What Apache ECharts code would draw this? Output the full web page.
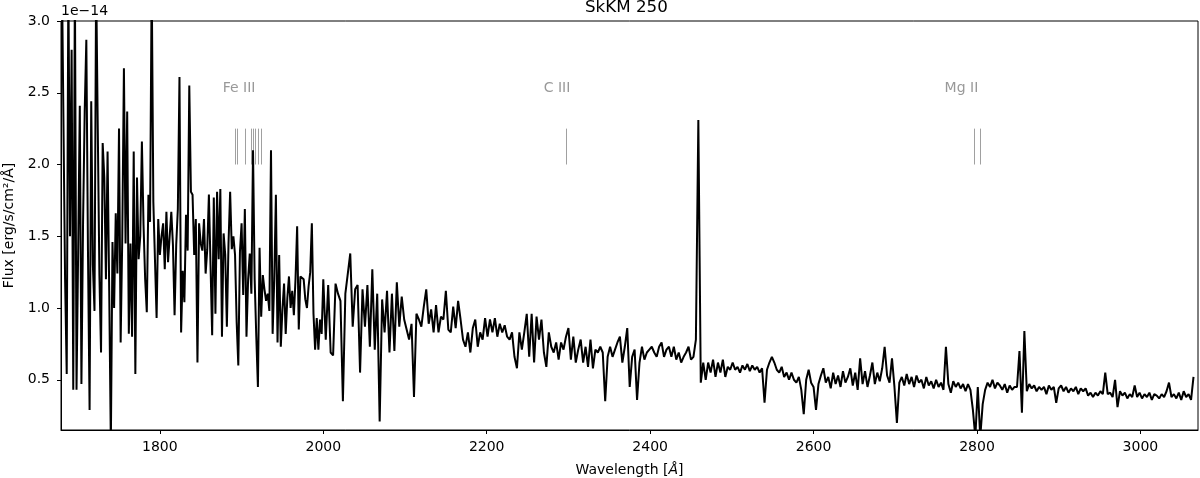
<!DOCTYPE html>
<html>
<head>
<meta charset="utf-8">
<title>SkKM 250</title>
<script src="https://cdn.jsdelivr.net/npm/echarts@6/dist/echarts.min.js"></script>
<style>
  html, body { margin: 0; padding: 0; background: #fff; }
  #chart { width: 1200px; height: 478px; }
</style>
</head>
<body>
<div id="chart"></div>
<script>
// flux in units of 1e-14 erg/s/cm2/A
// blue end: 1680..1998 A, every 2 A
const farStart = 1680;
const farStep = 2;
const farFlux = [
  3.4, 3.4, 1.2, 0.54, 3.3, 1.5, 2.8, 0.43, 3.3, 0.43,
  1.4, 2.41, 0.47, 1.6, 2.37, 2.87, 1.4, 0.29, 2.44, 1.3,
  0.98, 3.3, 2.25, 1.23, 0.69, 2.15, 1.91, 1.2, 2.09, 1.12,
  0.05, 1.46, 1.0, 1.66, 1.24, 2.25, 0.76, 1.5, 2.67, 1.45,
  2.37, 0.82, 1.45, 0.8, 2.09, 0.54, 1.91, 1.34, 1.5, 2.16,
  1.58, 1.2, 0.97, 1.79, 1.6, 3.3, 1.74, 1.75, 0.93, 1.62,
  1.37, 1.5, 1.59, 1.27, 1.67, 1.32, 1.5, 1.67, 1.44, 0.95,
  1.44, 1.69, 2.61, 0.83, 1.26, 1.04, 1.65, 1.4, 2.55, 1.81,
  1.79, 1.37, 1.62, 0.62, 1.59, 1.45, 1.4, 1.62, 1.24, 1.41,
  1.79, 1.3, 0.81, 1.77, 0.96, 1.81, 1.34, 1.83, 0.8, 1.52,
  1.37, 0.87, 1.45, 1.81, 1.41, 1.5, 1.37, 0.9, 0.6, 1.39,
  1.59, 1.09, 1.69, 0.8, 1.2, 1.38, 1.1, 2.1, 1.2, 0.8,
  0.45, 1.42, 0.94, 1.23, 1.13, 1.05, 1.1, 0.98, 2.1, 0.82,
  1.2, 1.79, 0.76, 1.37, 0.73, 0.99, 1.17, 0.82, 1.07, 1.22,
  1.0, 1.12, 0.95, 1.2, 1.57, 0.85, 1.22, 1.23, 1.2, 1.06,
  1.0, 1.15, 1.25, 1.59, 0.96, 0.71, 0.93, 0.71, 0.92, 0.82
];

// red part: 2000..3065 A, every 3 A
const nearStart = 2000;
const nearStep = 3;
const nearFlux = [
  1.20, 0.78, 1.16, 0.69, 0.67, 1.17, 1.10, 1.05, 0.35, 1.10,
  1.24, 1.38, 0.87, 1.13, 1.16, 0.55, 1.13, 0.87, 1.16, 0.73,
  1.27, 0.71, 1.10, 0.21, 1.06, 0.83, 1.12, 0.69, 1.10, 0.70,
  1.18, 0.87, 1.08, 0.92, 0.85, 0.78, 0.89, 0.38, 0.96, 0.92,
  0.87, 1.01, 1.13, 0.89, 0.99, 0.83, 1.02, 0.83, 0.94, 0.92,
  1.12, 0.85, 0.83, 1.01, 0.86, 1.05, 0.92, 0.78, 0.73, 0.83,
  0.69, 0.86, 0.92, 0.73, 0.83, 0.78, 0.93, 0.80, 0.92, 0.83,
  0.93, 0.80, 0.89, 0.83, 0.88, 0.80, 0.78, 0.83, 0.66, 0.58,
  0.83, 0.71, 0.83, 0.96, 0.66, 0.96, 0.62, 0.94, 0.78, 0.92,
  0.69, 0.59, 0.83, 0.73, 0.69, 0.76, 0.64, 0.76, 0.71, 0.80,
  0.86, 0.64, 0.80, 0.62, 0.71, 0.78, 0.62, 0.73, 0.59, 0.78,
  0.58, 0.71, 0.69, 0.73, 0.69, 0.35, 0.66, 0.73, 0.66, 0.71,
  0.76, 0.80, 0.62, 0.73, 0.86, 0.45, 0.66, 0.71, 0.36, 0.62,
  0.73, 0.64, 0.69, 0.71, 0.73, 0.69, 0.66, 0.73, 0.76, 0.66,
  0.71, 0.73, 0.66, 0.73, 0.64, 0.69, 0.62, 0.66, 0.69, 0.73,
  0.64, 0.66, 0.78, 2.31, 0.48, 0.62, 0.50, 0.62, 0.55, 0.64,
  0.52, 0.62, 0.55, 0.64, 0.52, 0.59, 0.57, 0.62, 0.57, 0.59,
  0.55, 0.60, 0.57, 0.61, 0.56, 0.60, 0.57, 0.59, 0.55, 0.58,
  0.34, 0.57, 0.62, 0.66, 0.62, 0.57, 0.55, 0.59, 0.52, 0.55,
  0.50, 0.55, 0.50, 0.48, 0.52, 0.43, 0.26, 0.50, 0.57, 0.48,
  0.45, 0.29, 0.47, 0.53, 0.58, 0.48, 0.52, 0.44, 0.55, 0.47,
  0.53, 0.45, 0.56, 0.48, 0.52, 0.58, 0.46, 0.55, 0.43, 0.65,
  0.47, 0.56, 0.45, 0.53, 0.62, 0.47, 0.55, 0.49, 0.58, 0.73,
  0.53, 0.48, 0.65, 0.45, 0.20, 0.48, 0.52, 0.46, 0.54, 0.47,
  0.52, 0.45, 0.53, 0.48, 0.50, 0.44, 0.52, 0.46, 0.49, 0.44,
  0.50, 0.45, 0.48, 0.43, 0.73, 0.47, 0.41, 0.49, 0.45, 0.48,
  0.44, 0.47, 0.42, 0.47, 0.43, 0.29, 0.10, 0.45, 0.10, 0.33,
  0.43, 0.48, 0.45, 0.50, 0.44, 0.48, 0.46, 0.43, 0.47, 0.41,
  0.46, 0.43, 0.45, 0.45, 0.70, 0.27, 0.84, 0.42, 0.47, 0.44,
  0.46, 0.42, 0.45, 0.43, 0.45, 0.40, 0.46, 0.43, 0.45, 0.34,
  0.44, 0.46, 0.42, 0.45, 0.41, 0.44, 0.42, 0.45, 0.40, 0.44,
  0.42, 0.44, 0.39, 0.41, 0.38, 0.41, 0.39, 0.42, 0.40, 0.55,
  0.40, 0.41, 0.38, 0.50, 0.31, 0.42, 0.39, 0.41, 0.37, 0.40,
  0.38, 0.46, 0.38, 0.41, 0.37, 0.40, 0.38, 0.41, 0.36, 0.40,
  0.39, 0.37, 0.40, 0.38, 0.42, 0.48, 0.38, 0.40, 0.37, 0.41,
  0.36, 0.42, 0.38, 0.40, 0.36, 0.52
];

// axes
const xTicks = [1800, 2000, 2200, 2400, 2600, 2800, 3000];
const yTicks = [0.5, 1.0, 1.5, 2.0, 2.5, 3.0];

// line identifications
const ionNames = ['Fe III', 'C III', 'Mg II'];
const ionLabelWave = [1897, 2286, 2781];
const ionLabelFlux = 2.53;
const feLines = [1891.8, 1894.7, 1904.9, 1911.8, 1914.2, 1916.7, 1920.3, 1924.5];
const cLines = [2297];
const mgLines = [2796.4, 2803.5];
const tickBottom = 2.0;
const tickTop = 2.25;

const FONT = 'DejaVu Sans';

const spectrum = [];
farFlux.forEach((f, i) => spectrum.push([farStart + i * farStep, f]));
nearFlux.forEach((f, i) => spectrum.push([nearStart + i * nearStep, f]));

const markerSegs = feLines.concat(cLines, mgLines).map(w => ({
    coords: [[w, tickBottom], [w, tickTop]]
}));

const ionLabels = ionNames.map((n, i) => ({ name: n, value: [ionLabelWave[i], ionLabelFlux] }));

const chart = echarts.init(document.getElementById('chart'), null, { renderer: 'canvas' });

chart.setOption({
    animation: false,
    backgroundColor: '#fff',
    textStyle: { fontFamily: FONT },
    grid: {
        left: 61, right: 2, top: 21, bottom: 48,
        outerBoundsMode: 'none',
        containLabel: false,
        show: true, borderColor: '#000', borderWidth: 1
    },
    xAxis: {
        type: 'value',
        min: 1679,
        max: 3070.5,
        name: 'Wavelength [{i|Å}]',
        nameLocation: 'middle',
        nameGap: 33,
        nameTextStyle: {
            color: '#000', fontSize: 14, fontFamily: FONT,
            rich: { i: { fontStyle: 'italic', fontSize: 14, fontFamily: FONT, color: '#000' } }
        },
        axisLine: { show: true, onZero: false, lineStyle: { color: '#000', width: 1 } },
        axisTick: { show: true, length: 4, customValues: xTicks, lineStyle: { color: '#000' } },
        axisLabel: {
            customValues: xTicks, color: '#000', fontSize: 14, fontFamily: FONT, margin: 10,
            formatter: v => String(v)
        },
        splitLine: { show: false }
    },
    yAxis: {
        type: 'value',
        min: 0.15,
        max: 3.0,
        name: 'Flux [erg/s/cm²/Å]',
        nameLocation: 'middle',
        nameGap: 43,
        nameTextStyle: { color: '#000', fontSize: 14, fontFamily: FONT },
        axisLine: { show: true, onZero: false, lineStyle: { color: '#000', width: 1 } },
        axisTick: { show: true, length: 4, customValues: yTicks, lineStyle: { color: '#000' } },
        axisLabel: {
            customValues: yTicks, color: '#000', fontSize: 14, fontFamily: FONT, margin: 11,
            formatter: v => v.toFixed(1)
        },
        splitLine: { show: false }
    },
    graphic: [
        {
            type: 'text', left: 585, top: -1,
            style: { text: 'SkKM 250', font: '16.7px "DejaVu Sans"', fill: '#000' }
        },
        {
            type: 'text', left: 61, top: 4,
            style: { text: '1e\u221214', font: '14px "DejaVu Sans"', fill: '#000' }
        }
    ],
    series: [
        {
            type: 'lines',
            coordinateSystem: 'cartesian2d',
            silent: true,
            z: 1,
            lineStyle: { color: '#a0a0a0', width: 1, opacity: 1 },
            data: markerSegs
        },
        {
            type: 'scatter',
            silent: true,
            z: 1,
            symbolSize: 1,
            itemStyle: { color: 'rgba(0,0,0,0)' },
            label: {
                show: true, position: 'inside', formatter: '{b}',
                color: '#808080', fontSize: 14, fontFamily: FONT
            },
            data: ionLabels
        },
        {
            type: 'line',
            z: 3,
            showSymbol: false,
            clip: true,
            lineStyle: { color: '#000', width: 2 },
            data: spectrum
        }
    ]
});
</script>
</body>
</html>
